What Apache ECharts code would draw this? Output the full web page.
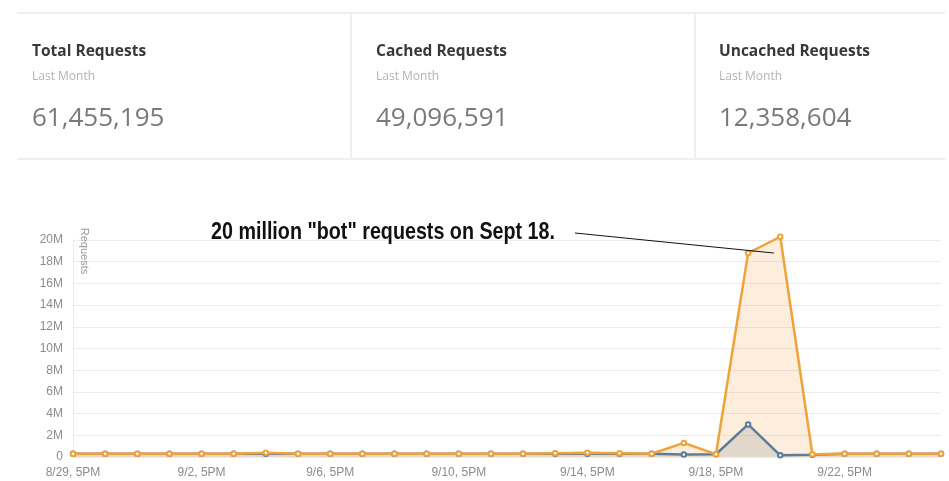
<!DOCTYPE html>
<html>
<head>
<meta charset="utf-8">
<script src="https://cdn.jsdelivr.net/npm/echarts@6/dist/echarts.min.js"></script>
<style>
  html, body { margin: 0; padding: 0; background: #fff; }
  #wrap { position: relative; width: 949px; height: 481px; overflow: hidden; }
  #chart { position: absolute; left: 0; top: 0; width: 949px; height: 481px; }
  #cards { position: absolute; left: 17px; top: 12px; width: 928px; height: 144px;
           border-top: 2px solid #efefef; border-bottom: 2px solid #efefef; font-family: "Open Sans", sans-serif; }
  .sep { position: absolute; top: 0; width: 2px; height: 146px; background: #efefef; }
  .card { position: absolute; top: 0; }
  .title { position: absolute; top: 29px; white-space: nowrap; font-size: 15.5px; line-height: 15.5px; font-weight: 700; color: #383838; }
  .sub { position: absolute; top: 56px; white-space: nowrap; font-size: 12px; line-height: 12px; color: #b3b3b3; }
  .num { position: absolute; top: 89px; white-space: nowrap; font-size: 26px; line-height: 26px; color: #7a7a7a; }
</style>
</head>
<body>
<div id="wrap">
  <div id="chart"></div>
  <div id="cards"></div>
</div>
<script>
// ---- Data ----
var cardTitles = ["Total Requests", "Cached Requests", "Uncached Requests"];
var cardSub = "Last Month";
var cardValues = ["61,455,195", "49,096,591", "12,358,604"];

var categories = ["8/29, 5PM","8/30, 5PM","8/31, 5PM","9/1, 5PM","9/2, 5PM","9/3, 5PM","9/4, 5PM",
  "9/5, 5PM","9/6, 5PM","9/7, 5PM","9/8, 5PM","9/9, 5PM","9/10, 5PM","9/11, 5PM","9/12, 5PM",
  "9/13, 5PM","9/14, 5PM","9/15, 5PM","9/16, 5PM","9/17, 5PM","9/18, 5PM","9/19, 5PM","9/20, 5PM",
  "9/21, 5PM","9/22, 5PM","9/23, 5PM","9/24, 5PM","9/25, 5PM"];
// cached (orange)
var cachedValues = [300000,300000,300000,300000,300000,300000,400000,300000,300000,300000,300000,300000,
  300000,300000,300000,350000,400000,350000,300000,1300000,250000,18800000,20300000,250000,300000,300000,300000,300000];
// uncached (blue-grey)
var uncachedValues = [300000,300000,300000,300000,300000,300000,300000,300000,300000,300000,300000,300000,
  300000,300000,300000,300000,300000,300000,300000,220000,250000,3000000,150000,200000,300000,300000,300000,300000];
var yAxisName = "Requests";
var annotationText = "20 million \"bot\" requests on Sept 18.";
var annotationTarget = [21.8, 18.8e6]; // point on the 9/19–9/20 segment

// ---- Cards ----
var cardsEl = document.getElementById('cards');
var cardX = [15, 359, 702];
var sepX = [333, 677];
sepX.forEach(function (x) {
  var s = document.createElement('div'); s.className = 'sep'; s.style.left = x + 'px'; cardsEl.appendChild(s);
});
cardTitles.forEach(function (t, i) {
  var c = document.createElement('div'); c.className = 'card'; c.style.left = cardX[i] + 'px';
  c.innerHTML = '<div class="title">' + t + '</div><div class="sub">' + cardSub + '</div><div class="num">' + cardValues[i] + '</div>';
  cardsEl.appendChild(c);
});

// ---- Chart ----
var chart = echarts.init(document.getElementById('chart'), null, { renderer: 'canvas' });
var orange = '#efa33b';
var blue = '#5c7d99';
var labelFont = '"Liberation Sans Narrow", "Liberation Sans", sans-serif';
var option = {
  animation: false,
  grid: { left: 73, right: 8, top: 240, bottom: 24 },
  xAxis: {
    type: 'category', boundaryGap: false, data: categories,
    axisLine: { show: false }, axisTick: { show: false },
    axisLabel: { interval: 3, color: '#8c8c8c', fontSize: 12, margin: 10, fontFamily: labelFont },
    splitLine: { show: false }
  },
  yAxis: {
    type: 'value', min: 0, max: 20000000, interval: 2000000,
    axisLine: { show: true, lineStyle: { color: '#ececec' } }, axisTick: { show: false },
    axisLabel: { color: '#8c8c8c', fontSize: 12, margin: 10, fontFamily: labelFont,
      formatter: function (v) { return v === 0 ? '0' : (v / 1e6) + 'M'; } },
    splitLine: { lineStyle: { color: '#ececec', width: 1 } }
  },
  series: [
    { name: 'Cached area', type: 'line', data: cachedValues, clip: false,
      symbol: 'none', lineStyle: { width: 0 }, silent: true,
      areaStyle: { color: 'rgba(245,160,70,0.27)' }, z: 1 },
    { name: 'Uncached', type: 'line', data: uncachedValues, clip: false,
      symbol: 'emptyCircle', symbolSize: 4.5,
      lineStyle: { color: blue, width: 2.5 }, itemStyle: { color: blue, borderWidth: 1.5 },
      areaStyle: { color: 'rgba(125,130,135,0.3)' }, z: 2 },
    { name: 'Cached', type: 'line', data: cachedValues, clip: false,
      symbol: 'emptyCircle', symbolSize: 4.5,
      lineStyle: { color: orange, width: 2.5 }, itemStyle: { color: orange, borderWidth: 1.5 }, z: 3 }
  ]
};
chart.setOption(option);

// annotation anchored to data
var p0 = chart.convertToPixel({ gridIndex: 0 }, [21, annotationTarget[1]]);
var p1 = chart.convertToPixel({ gridIndex: 0 }, [22, annotationTarget[1]]);
var frac = annotationTarget[0] - 21;
var tx = p0[0] + (p1[0] - p0[0]) * frac;
var ty = p0[1];

var annFont = 'bold 24px "Liberation Sans", Arial, sans-serif';
var cv = document.createElement('canvas').getContext('2d');
cv.font = annFont;
var w = cv.measureText(annotationText).width;
var sx = 344 / w;

chart.setOption({
  graphic: [
    { type: 'text', x: 211, y: 232.5, scaleX: sx, scaleY: 1, z: 10,
      style: { text: annotationText, font: annFont, fill: '#111', textAlign: 'left', textVerticalAlign: 'middle' } },
    { type: 'line', z: 10, shape: { x1: 575, y1: 233, x2: tx, y2: ty }, style: { stroke: '#111', lineWidth: 1 } },
    { type: 'text', x: 84, y: 251, rotation: -Math.PI / 2, z: 10,
      style: { text: yAxisName, font: '11px ' + labelFont, fill: '#9a9a9a', textAlign: 'center', textVerticalAlign: 'middle' } }
  ]
});
</script>
</body>
</html>
